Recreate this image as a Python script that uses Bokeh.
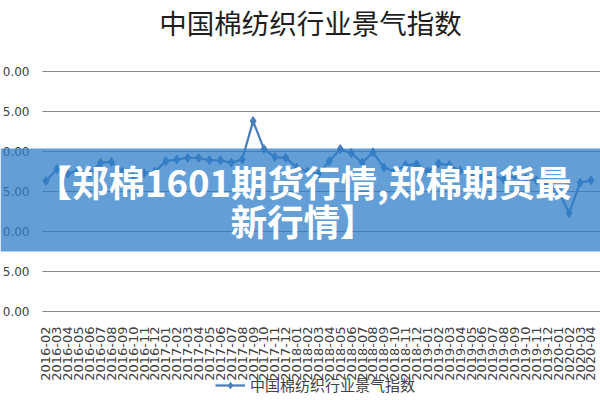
from bokeh.plotting import figure
from bokeh.models import (Range1d, FixedTicker, BoxAnnotation, Label, Legend,
                          LegendItem, ColumnDataSource, Grid)
from bokeh.embed import file_html
from bokeh.resources import INLINE
import math

months = [
    "2016-02", "2016-03", "2016-04", "2016-05", "2016-06", "2016-07", "2016-08",
    "2016-09", "2016-10", "2016-11", "2016-12",
    "2017-01", "2017-02", "2017-03", "2017-04", "2017-05", "2017-06", "2017-07",
    "2017-08", "2017-09", "2017-10", "2017-11", "2017-12",
    "2018-01", "2018-02", "2018-03", "2018-04", "2018-05", "2018-06", "2018-07",
    "2018-08", "2018-09", "2018-10", "2018-11", "2018-12",
    "2019-01", "2019-02", "2019-03", "2019-04", "2019-05", "2019-06", "2019-07",
    "2019-08", "2019-09", "2019-10", "2019-11", "2019-12",
    "2020-01", "2020-02", "2020-03", "2020-04",
]
index_values = [
    46.3, 47.8, 47.2, 47.7, 47.2, 48.6, 48.7, 47.5, 47.0, 47.3, 47.5,
    48.8, 49.0, 49.2, 49.2, 48.9, 48.9, 48.6, 49.0, 53.8, 50.3, 49.3, 49.2,
    48.0, 47.5, 47.2, 48.8, 50.3, 49.8, 48.6, 49.9, 48.0, 47.5, 48.3, 48.4,
    47.5, 48.5, 48.3, 47.6, 47.0, 46.8, 47.0, 46.5, 47.0, 46.6, 46.4, 45.8,
    45.1, 42.3, 46.1, 46.4,
]
y_ticks = [30, 35, 40, 45, 50, 55, 60]
y_tick_labels = ["0.00", "5.00", "0.00", "5.00", "0.00", "5.00", "0.00"]
title_text = "中国棉纺织行业景气指数"
series_name = "中国棉纺织行业景气指数"
banner_lines = ["【郑棉1601期货行情,郑棉期货最", "新行情】"]

positions = list(range(len(months)))
src = ColumnDataSource(dict(x=positions, month=months, value=index_values))

# the frame covers the whole canvas; axes are pinned inside it
X_LEFT, X_RIGHT = -4.174, 50.872
Y_BOTTOM, Y_TOP = 18.875, 68.875
PLOT_LEFT = -0.321

p = figure(width=600, height=400, output_backend="svg", toolbar_location=None,
           x_range=Range1d(X_LEFT, X_RIGHT), y_range=Range1d(Y_BOTTOM, Y_TOP),
           min_border=0, min_border_left=0, min_border_right=0,
           min_border_top=0, min_border_bottom=0)
p.outline_line_color = None
p.background_fill_color = "white"
p.border_fill_color = "white"

line_r = p.line("x", "value", source=src, line_color="#4a7ebb", line_width=2.25)
pt_r = p.scatter("x", "value", source=src, marker="diamond", size=9,
                 fill_color="#4a7ebb", line_color="#4a7ebb")

p.xgrid.grid_line_color = None
p.ygrid.ticker = FixedTicker(ticks=y_ticks)
p.ygrid.grid_line_color = "#868686"
p.ygrid.grid_line_width = 1
if "cross_bounds" in Grid.properties():
    p.ygrid.cross_bounds = (PLOT_LEFT, X_RIGHT)
else:
    p.add_layout(BoxAnnotation(left=X_LEFT, right=PLOT_LEFT, fill_color="white",
                               fill_alpha=1, line_color=None, level="underlay"))

yax = p.yaxis[0]
yax.fixed_location = PLOT_LEFT
yax.ticker = FixedTicker(ticks=y_ticks)
yax.major_label_overrides = {t: s for t, s in zip(y_ticks, y_tick_labels)}
yax.axis_line_color = None
yax.major_tick_line_color = None
yax.minor_tick_line_color = None
yax.major_label_standoff = 7
yax.major_label_text_font = "DejaVu Sans"
yax.major_label_text_font_size = "12px"
yax.major_label_text_color = "#404040"

xax = p.xaxis[0]
xax.fixed_location = 30
xax.ticker = FixedTicker(ticks=positions)
xax.major_label_overrides = {i: m for i, m in zip(positions, months)}
xax.major_label_orientation = math.pi / 2
xax.major_label_text_font = "DejaVu Sans"
xax.major_label_text_font_size = "13px"
xax.major_label_text_color = "#404040"
xax.major_label_standoff = 9
xax.major_tick_line_color = None
xax.minor_tick_line_color = None
xax.axis_line_color = None

legend = Legend(items=[LegendItem(label=series_name, renderers=[line_r, pt_r])],
                location=(215, 5), orientation="horizontal",
                border_line_color=None, background_fill_alpha=0,
                padding=0, margin=0, spacing=0, label_standoff=5,
                glyph_width=30, glyph_height=16,
                label_text_font="Noto Sans CJK SC", label_text_font_size="15px",
                label_text_color="#404040")
p.add_layout(legend)

p.add_layout(Label(x=24.27, y=66.25, text=title_text, text_align="center",
                   text_baseline="middle", text_color="#1e1e1e",
                   text_font="Noto Sans CJK SC", text_font_size="27.5px"))

banner = BoxAnnotation(top=50.375, bottom=37.5,
                       fill_color="#2f7fc8", fill_alpha=0.75, line_color=None,
                       level="overlay")
p.add_layout(banner)

for txt, yv in zip(banner_lines, [46.25, 41.375]):
    p.add_layout(Label(x=23.62, y=yv, text=txt, text_align="center",
                       text_baseline="middle", text_color="white",
                       text_font="Noto Sans CJK SC", text_font_style="bold",
                       text_font_size="36.5px", level="overlay"))

open("out.html", "w").write(file_html(p, INLINE))
